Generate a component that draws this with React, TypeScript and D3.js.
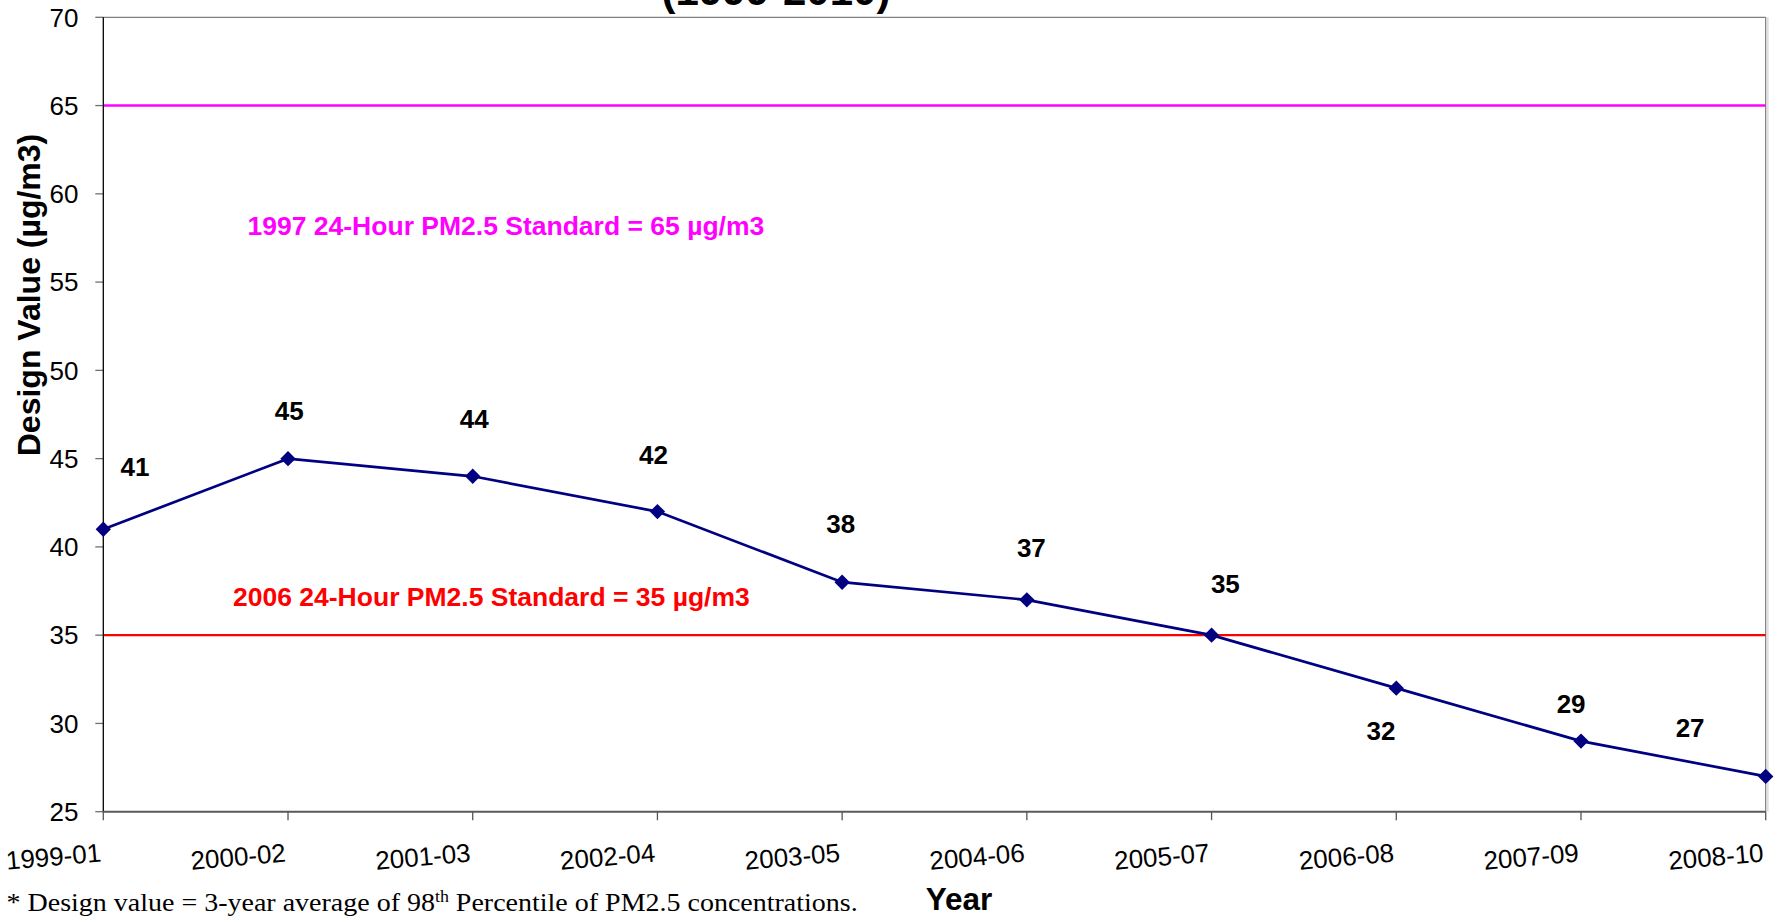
import React from "react";
import * as d3 from "d3";

const categories = ["1999-01", "2000-02", "2001-03", "2002-04", "2003-05", "2004-06", "2005-07", "2006-08", "2007-09", "2008-10"];
const designValues = [41, 45, 44, 42, 38, 37, 35, 32, 29, 27];
const yTicks = [25, 30, 35, 40, 45, 50, 55, 60, 65, 70];
const standard1997 = 65;
const standard2006 = 35;
// label placement offsets (layout only)
const labelOffsets: [number, number][] = [
  [31.7, -63], [1.3, -48], [1.6, -57.6], [-4, -56.6], [-1.4, -58.2],
  [4.5, -52.5], [13.8, -51.2], [-15.2, 42.6], [-9.9, -37.1], [-75.6, -49.1],
];

const W = 1779;
const H = 917;
const L = 103.3, R = 1765.7, T = 17.3, B = 811.7;
const SANS = "'Liberation Sans', Arial, sans-serif";
const SERIF = "'Liberation Serif', 'Times New Roman', serif";

export default function App() {
  const x = d3.scalePoint<string>().domain(categories).range([L, R]).padding(0);
  const y = d3.scaleLinear().domain([25, 70]).range([B, T]);
  const line = d3.line<number>().x((_, i) => x(categories[i])!).y((d) => y(d));
  const diamond = d3.symbol().type(d3.symbolDiamond2).size(150)();

  return (
    <svg width={W} height={H} style={{ position: "absolute", left: 0, top: 0, background: "#fff" }}>
      <rect x={0} y={0} width={W} height={H} fill="#fff" />
      {/* title fragment */}
      <text x={776} y={5} textAnchor="middle" fontFamily={SANS} fontWeight="bold" fontSize={42}>(1999-2010)</text>

      {/* frame */}
      <line x1={L} x2={R} y1={T} y2={T} stroke="#808080" strokeWidth={1.3} />
      <line x1={R} x2={R} y1={T} y2={B} stroke="#808080" strokeWidth={1.3} />
      <line x1={R + 2} x2={R + 2} y1={T} y2={B} stroke="#e0e0e0" strokeWidth={2} />

      {/* y axis ticks & labels */}
      {yTicks.map((t) => (
        <g key={t}>
          <line x1={L - 8} x2={L} y1={y(t)} y2={y(t)} stroke="#707070" strokeWidth={1.3} />
          <text x={78.5} y={y(t) + 9.2} textAnchor="end" fontFamily={SANS} fontSize={26} fill="#000">{t}</text>
        </g>
      ))}

      {/* standard lines */}
      <line x1={L} x2={R} y1={y(standard1997)} y2={y(standard1997)} stroke="#FF00FF" strokeWidth={2.6} />
      <line x1={L} x2={R} y1={y(standard2006)} y2={y(standard2006)} stroke="#FF0000" strokeWidth={2.3} />
      <text x={247.5} y={234.5} fontFamily={SANS} fontWeight="bold" fontSize={26.5} fill="#FF00FF">1997 24-Hour PM2.5 Standard = 65 µg/m3</text>
      <text x={233} y={605.5} fontFamily={SANS} fontWeight="bold" fontSize={26.5} fill="#FF0000">2006 24-Hour PM2.5 Standard = 35 µg/m3</text>

      {/* axes */}
      <line x1={L} x2={L} y1={T} y2={B} stroke="#000" strokeWidth={1.3} />
      <line x1={L} x2={R} y1={B} y2={B} stroke="#5a5a5a" strokeWidth={2} />
      {categories.map((c) => (
        <g key={c}>
          <line x1={x(c)!} x2={x(c)!} y1={B} y2={B + 8.5} stroke="#555" strokeWidth={1.3} />
          <text
            transform={`translate(${x(c)! - 1.5},${861.5}) rotate(-5)`}
            textAnchor="end"
            fontFamily={SANS}
            fontSize={26}
            fill="#000"
          >{c}</text>
        </g>
      ))}

      {/* data line */}
      <path d={line(designValues)!} fill="none" stroke="#000080" strokeWidth={2.7} />
      {designValues.map((v, i) => (
        <path key={i} d={diamond!} transform={`translate(${x(categories[i])},${y(v)})`} fill="#000080" />
      ))}
      {designValues.map((v, i) => (
        <text
          key={"l" + i}
          x={x(categories[i])! + labelOffsets[i][0]}
          y={y(v) + labelOffsets[i][1] + 9.3}
          textAnchor="middle"
          fontFamily={SANS}
          fontWeight="bold"
          fontSize={26}
          fill="#000"
        >{v}</text>
      ))}

      {/* axis titles */}
      <text transform="translate(40,295) rotate(-90)" textAnchor="middle" fontFamily={SANS} fontWeight="bold" fontSize={32} fill="#000">Design Value (µg/m3)</text>
      <text x={959} y={910} textAnchor="middle" fontFamily={SANS} fontWeight="bold" fontSize={31.5} fill="#000">Year</text>

      {/* footnote */}
      <text transform="translate(6.5,911) scale(1.12,1)" fontFamily={SERIF} fontSize={25} fill="#000">
        * Design value = 3-year average of 98<tspan dy={-9} fontSize={16}>th</tspan><tspan dy={9}> Percentile of PM2.5 concentrations.</tspan>
      </text>
    </svg>
  );
}
